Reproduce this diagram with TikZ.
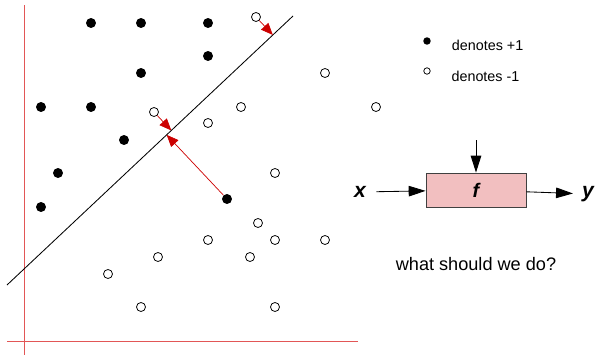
\documentclass[tikz,border=0pt]{standalone}
\usepackage{fontspec}
\setmainfont{Liberation Sans}
\usepackage{xcolor}
\usepackage{tikz}
\usetikzlibrary{
    arrows.meta,
    calc,
    positioning
}
\definecolor{axisred}{RGB}{226,86,86}
\definecolor{arrowred}{RGB}{204,0,0}
\definecolor{boxpink}{RGB}{242,191,192}
\tikzset
{
  plus/.style={circle,fill=black,inner sep=0pt,minimum size=7.1pt},
  minus/.style={circle,draw=black,fill=white,line width=0.55pt,inner sep=0pt,minimum size=6.4pt},
  margin/.style={draw=arrowred,line width=0.5pt,-{Triangle[length=8.5pt,width=7pt]}},
  axis/.style={draw=axisred,line width=0.7pt},
  flow/.style={draw=black,line width=0.6pt,-{Triangle[length=12pt,width=7.5pt]}},
  fbox/.style={draw=black!75,fill=boxpink,line width=0.6pt,minimum width=2.5cm,minimum height=0.85cm,inner sep=0pt}
}

\begin{document}
\begin{tikzpicture}[x=0.025cm,y=-0.025cm]
        \useasboundingbox (0,0) rectangle (601,355);

        % Axes
        \draw[axis] (24,5) -- (24,355);
        \draw[axis] (7,341) -- (358,341);

        % Separating line
        \coordinate (la) at (7,285);
        \coordinate (lb) at (293,16);
        \draw[line width=0.6pt] (la) -- (lb);

        % Class +1
        \node[plus] (p1) at (91,23) {};
        \node[plus] (p2) at (141,23) {};
        \node[plus] (p3) at (208,23) {};
        \node[plus] (p4) at (208,56) {};
        \node[plus] (p5) at (141,73) {};
        \node[plus] (p6) at (41,107) {};
        \node[plus] (p7) at (91,107) {};
        \node[plus] (p8) at (124,140) {};
        \node[plus] (p9) at (58,173) {};
        \node[plus] (p10) at (41,207) {};
        \node[plus] (p11) at (227,199) {};

        % Class -1
        \node[minus] (m1) at (256,17) {};
        \node[minus] (m2) at (154,112) {};
        \node[minus] (m3) at (208,123) {};
        \node[minus] (m4) at (241,107) {};
        \node[minus] (m5) at (325,73) {};
        \node[minus] (m6) at (376,107) {};
        \node[minus] (m7) at (275,173) {};
        \node[minus] (m8) at (258,223) {};
        \node[minus] (m9) at (208,240) {};
        \node[minus] (m10) at (275,240) {};
        \node[minus] (m11) at (325,240) {};
        \node[minus] (m12) at (158,257) {};
        \node[minus] (m13) at (250,257) {};
        \node[minus] (m14) at (108,274) {};
        \node[minus] (m15) at (141,307) {};
        \node[minus] (m16) at (275,307) {};

        % Distances to the line
        \coordinate (f1) at ($(la)!(m1)!(lb)$);
        \coordinate (f2) at ($(la)!(m2)!(lb)$);
        \coordinate (f3) at ($(la)!(p11)!(lb)$);
        \draw[margin] (m1) -- (f1);
        \draw[margin] (m2) -- (f2);
        \draw[margin] (p11) -- (f3);

        % Legend
        \node[plus,minimum size=5.3pt] (lp) at (427,41) {};
        \node[minus,minimum size=4.6pt] (lm) at (427,71) {};
        \node[right=0.4cm of lp,yshift=-3pt,font=\fontsize{10.2}{12}\selectfont] (tp) {denotes +1};
        \node[right=0.4cm of lm,yshift=-3.5pt,font=\fontsize{10.2}{12}\selectfont] (tm) {denotes -1};

        % Black box
        \node[fbox,font=\fontsize{14}{16}\selectfont\bfseries\itshape] (f) at (476,190) {f};
        \node[font=\fontsize{15}{17}\selectfont\bfseries\itshape] (xin) at (360,192) {x};
        \node[font=\fontsize{15}{17}\selectfont\bfseries\itshape] (yout) at (588,194) {y};
        \coordinate (ctl) at (476,140);
        \draw[flow] (xin) -- (f) [shorten <=4pt];
        \draw[flow] (f) -- (yout) [shorten >=3pt];
        \draw[flow] (ctl) -- (f);

        \node[font=\fontsize{12.9}{15}\selectfont] (q) at (476,264) {what should we do?};
    \end{tikzpicture}
\end{document}
